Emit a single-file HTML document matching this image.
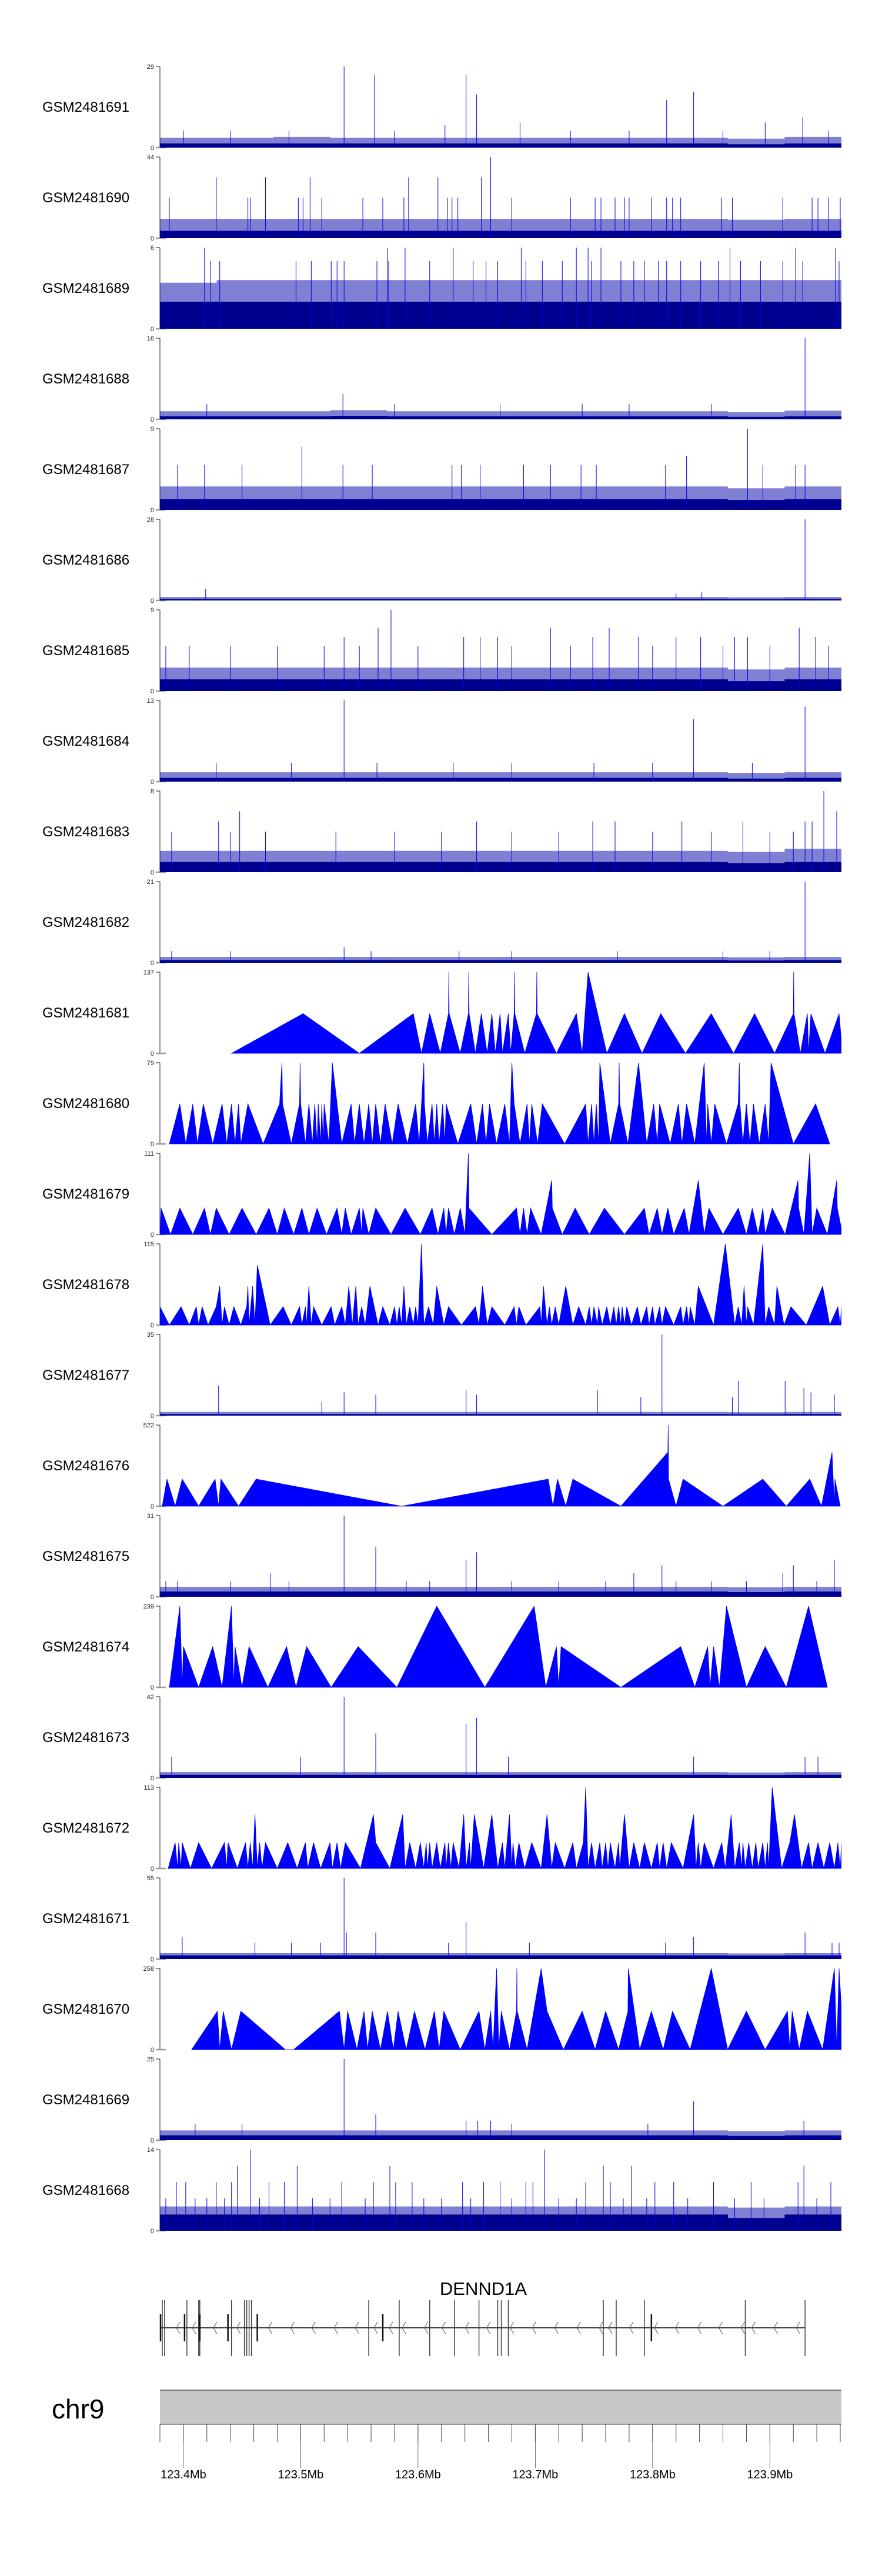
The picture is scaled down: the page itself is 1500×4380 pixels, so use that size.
<!DOCTYPE html>
<html>
<head>
<meta charset="utf-8">
<style>
html,body{margin:0;padding:0;background:#fff;}
svg{display:block;font-family:"Liberation Sans",sans-serif;}
</style>
</head>
<body>
<svg id="chart" width="1500" height="4380" viewBox="0 0 1500 4380" xmlns="http://www.w3.org/2000/svg">
<defs><clipPath id="plotclip"><rect x="272" y="0" width="1159" height="4380"/></clipPath></defs>
</svg>
<script>
// ---- region / panel meta (kb offsets from 123.38 Mb) ----
const sampleNames = ["GSM2481691","GSM2481690","GSM2481689","GSM2481688","GSM2481687","GSM2481686","GSM2481685","GSM2481684","GSM2481683","GSM2481682","GSM2481681","GSM2481680","GSM2481679","GSM2481678","GSM2481677","GSM2481676","GSM2481675","GSM2481674","GSM2481673","GSM2481672","GSM2481671","GSM2481670","GSM2481669","GSM2481668"];
const sampleMax = [29,44,6,16,9,28,9,13,8,21,137,79,111,115,35,522,31,239,42,113,55,258,25,14];
const sampleKind = ["n","n","n","n","n","n","n","n","n","n","t","t","t","t","n","t","n","t","n","t","n","t","n","n"];

// ---- triangle (sparse) tracks: polyline vertices ----
const t81Pos = [61,122,170,216,223,230,239,246,246.3,246.6,256,263,263.3,263.6,269,274,279,283,286,290,292,297,299,302,302.3,302.6,311,321,321.3,321.6,338,355,360,365,381,396,411,427,448,470,489,507,524,540,540.3,540.6,546,552,553,555,567,579,581];
const t81Val = [0,67,0,67,0,67,0,67,137,67,0,67,137,67,0,67,0,67,0,67,0,67,0,67,137,67,0,67,137,67,0,67,0,137,0,67,0,67,0,67,0,67,0,67,137,67,0,67,0,67,0,67,20];
const t80Pos = [8,17,22,28,32,37,45,53,57,61,64,67,69,75,88,102,104,104.5,112,119,119.5,120,124,127,130,132,134,135,137,138,139,140,144,147,155,163,166,170,174,178,181,184,188,192,198,203,211,218,221,223,225,225.5,228,232,234,236,238,241,243,244,254,265,270,275,278,281,287,294,298,300,302,307,313,315,317,322,326,345,363,365,368,370,372,374,375,384,391,391.5,392,399,408,415,421,424,426,435,442,445,449,456,464,466,467,470,473,483,493,494,494.5,497,500,503,506,511,516,519,521,540,559,571];
const t80Val = [0,39,0,39,0,39,0,39,0,39,0,39,0,39,0,39,79,39,0,39,79,39,0,39,0,39,0,39,0,39,0,39,0,79,0,39,0,39,0,39,0,39,0,39,0,39,0,39,0,39,79,39,0,39,0,39,0,39,0,39,0,39,0,39,0,39,0,39,0,79,39,0,39,0,39,0,39,0,39,0,39,0,39,0,79,0,39,79,39,0,79,0,39,0,39,0,39,0,39,0,79,0,39,0,39,0,39,79,39,0,39,0,39,0,39,0,79,0,39,0];
const t79Pos = [0,1,9,17,28,38,43,48,59,70,82,93,100,106,114,121,127,134,142,151,155,158,163,170,172,173,178,184,197,209,222,232,237,242,244,246,251,256,260,263,263.5,283,304,307,310,313,316,325,334,334.5,343,354,366,379,396,413,417,424,428,433,438,447,451,459,464,468,480,493,500,505,510,514,516,522,533,544,544.5,549,554,556,560,569,577,577.5,582];
const t79Val = [0,36,0,36,0,36,0,36,0,36,0,36,0,36,0,36,0,36,0,36,0,36,0,36,0,36,0,36,0,36,0,36,0,36,0,36,0,36,0,111,36,0,36,0,36,0,36,0,74,36,0,36,0,36,0,36,0,36,0,36,0,36,0,74,0,36,0,36,0,36,0,36,0,36,0,74,36,0,111,0,36,0,74,36,0];
const t78Pos = [0,8,18,25,31,33,36,41,48,51,53,55,59,63,69,74,75,76,79,81,83,94,105,112,119,121,124,125,127,129,131,138,146,149,155,158,161,164,167,169,172,175,179,186,190,196,200,202,204,206,208,210,213,216,218,220,223,225,229,233,236,242,246,257,269,272,275,279,283,294,302,304,306,312,324,325,327,330,332,334,337,340,346,352,357,363,366,368,370,373,374,377,381,384,387,389,391,393,394,396,398,402,407,410,415,417,420,422,426,428,431,438,444,446,449,451,452,456,459,472,482,490,493,496,498,500,501,506,514,516,519,524,526,532,538,551,565,571,578,580,581];
const t78Val = [26,0,26,0,26,0,26,0,26,55,0,26,0,26,0,26,55,0,55,0,85,0,26,0,26,0,26,0,55,0,26,0,26,0,26,0,55,0,55,0,26,0,55,0,26,0,26,0,26,0,55,0,26,0,26,0,115,0,26,0,55,0,26,0,26,0,55,0,26,0,26,0,26,0,26,0,55,0,26,0,26,0,55,0,26,0,26,0,26,0,26,0,26,0,26,0,26,0,26,0,26,0,26,0,26,0,26,0,26,0,26,0,26,0,26,0,26,0,55,0,115,0,26,0,55,0,26,0,115,0,26,0,55,0,26,0,55,0,26,0,26];
const t76Pos = [2,6,13,19,33,47,50,52,67,82,206,331,335,339,346,352,393,433,433.3,433.6,440,446,480,514,534,554,564,573,575,575.5,580];
const t76Val = [0,174,0,174,0,174,0,174,0,174,0,174,0,174,0,174,0,347,522,174,0,174,0,174,0,174,0,347,0,174,0];
const t74Pos = [8,17,19,20,33,45,53,61,63,64,70,76,92,108,116,125,146,169,202,236,277,319,329,338,340,342,393,444,456,467,469,472,477,483,500,516,534,553,569];
const t74Val = [0,239,0,120,0,120,0,239,0,120,0,120,0,120,0,120,0,120,0,239,0,239,0,120,0,120,0,120,0,120,0,120,0,239,0,120,0,239,0];
const t72Pos = [7,13,15,16,18,19,26,33,44,55,57,58,66,73,75,77,79,81,83,85,87,90,100,109,117,124,126,131,137,145,147,151,154,158,171,182,184,196,207,209,213,218,222,225,227,228,230,232,236,239,243,244,246,248,250,255,259,261,264,265,268,276,283,288,292,294,298,300,301,303,306,311,317,325,330,334,337,345,352,355,361,363,365,368,371,375,377,380,382,384,388,391,392,396,400,404,409,413,419,424,426,429,432,436,446,455,457,459,461,464,472,479,482,487,490,494,496,497,499,502,505,508,510,514,516,518,519,522,530,537,541,547,553,556,561,566,571,575,578,580,581];
const t72Val = [0,36,0,36,0,36,0,36,0,36,0,36,0,36,0,36,0,75,0,36,0,36,0,36,0,36,0,36,0,36,0,36,0,36,0,75,36,0,75,0,36,0,36,0,36,0,36,0,36,0,36,0,36,0,36,0,75,0,36,0,75,0,75,0,36,0,75,0,36,0,36,0,36,0,75,0,36,0,36,0,36,113,0,36,0,36,0,36,0,36,0,36,0,75,0,36,0,36,0,36,0,36,0,36,0,75,0,36,0,36,0,36,0,75,0,36,0,36,0,36,0,36,0,36,0,36,0,113,0,36,75,0,36,0,36,0,36,0,36,0,36];
const t70Pos = [27,49,51,54,61,69,107,114,153,157,160,168,174,177,181,188,194,199,203,210,217,226,234,238,242,256,272,277,282,284,287,289,291,298,304,304.3,304.6,313,325,330,344,360,371,380,391,399,399.3,409,419,429,437,452,470,484,500,516,535,537,539,545,552,565,575,577,579,583];
const t70Val = [0,122,0,122,0,122,0,0,122,0,122,0,122,0,122,0,122,0,122,0,122,0,122,0,122,0,122,0,122,0,258,0,122,0,122,258,122,0,258,122,0,122,0,122,0,122,258,0,122,0,122,0,258,0,122,0,122,0,122,0,122,0,258,0,258,0];

// ---- dense (noisy) tracks: binned floor/typical level (12 bins) + spikes ----
const n91Band=[1.5,1.5,1.5,1.5,1.5,1.5,1.5,1.5,1.5,1.5,1.2,1.5];
const n91Mid=[3.5,3.5,3.8,3.5,3.5,3.5,3.5,3.5,3.5,3.5,3.2,3.8];
const n91SpikePos=[157,183,261,270,307,432,455,548,516,243,20,60,110,200,350,400,480,570];
const n91SpikeVal=[29,26,26,19,9,17,20,11,9,8,6,6,6,6,6,6,6,6];
const n90Band=[4,4,4,4,4,4,4,4,4,4,4,4];
const n90Mid=[10.5,10.5,10.5,10.5,10.5,10.5,10.5,10.5,10.5,10.5,10,10.5];
const n90SpikePos=[8,75,77,118,122,138,173,190,208,245,249,254,300,350,371,376,388,396,400,419,432,437,444,479,488,531,556,561,570,580,48,90,128,212,237,274,282];
const n90SpikeVal=[22,22,22,22,22,22,22,22,22,22,22,22,22,22,22,22,22,22,22,22,22,22,22,22,22,22,22,22,22,22,33,33,33,33,33,33,44];
const n89Band=[2,2,2,2,2,2,2,2,2,2,2,2];
const n89Mid=[3.4,3.6,3.6,3.6,3.6,3.6,3.6,3.6,3.6,3.6,3.6,3.6];
const n89SpikePos=[38,194,209,250,308,355,365,376,486,542,576,43,51,116,129,146,151,157,185,195,230,267,278,288,312,326,343,368,393,404,413,425,432,444,461,476,495,512,531,548,579];
const n89SpikeVal=[6,6,6,6,6,6,6,6,6,6,6,5,5,5,5,5,5,5,5,5,5,5,5,5,5,5,5,5,5,5,5,5,5,5,5,5,5,5,5,5,5];
const n88Band=[0.6,0.6,0.6,0.7,0.6,0.6,0.6,0.6,0.6,0.6,0.5,0.6];
const n88Mid=[1.6,1.6,1.6,1.8,1.6,1.6,1.6,1.6,1.6,1.6,1.4,1.7];
const n88SpikePos=[550,156,40,200,290,360,400,470];
const n88SpikeVal=[16,5,3,3,3,3,3,3];
const n87Band=[1.2,1.2,1.2,1.2,1.2,1.2,1.2,1.2,1.2,1.2,1.1,1.2];
const n87Mid=[2.6,2.6,2.6,2.6,2.6,2.6,2.6,2.6,2.6,2.6,2.4,2.6];
const n87SpikePos=[501,121,449,15,38,70,156,181,249,257,273,310,333,359,372,431,514,542,550];
const n87SpikeVal=[9,7,6,5,5,5,5,5,5,5,5,5,5,5,5,5,5,5,5];
const n86Band=[0.5,0.5,0.5,0.5,0.5,0.5,0.5,0.5,0.5,0.5,0.4,0.5];
const n86Mid=[1.2,1.2,1.2,1.2,1.2,1.2,1.2,1.2,1.2,1.2,1.1,1.2];
const n86SpikePos=[550,39,462,440];
const n86SpikeVal=[28,4,3,2.5];
const n85Band=[1.3,1.3,1.3,1.3,1.3,1.3,1.3,1.3,1.3,1.3,1.1,1.3];
const n85Mid=[2.6,2.6,2.6,2.6,2.6,2.6,2.6,2.6,2.6,2.6,2.4,2.6];
const n85SpikePos=[197,186,333,383,545,157,259,273,288,369,408,440,461,490,501,559,5,25,60,100,140,170,220,300,350,420,480,520,570];
const n85SpikeVal=[9,7,7,7,7,6,6,6,6,6,6,6,6,6,6,6,5,5,5,5,5,5,5,5,5,5,5,5,5];
const n84Band=[0.6,0.6,0.6,0.6,0.6,0.6,0.6,0.6,0.6,0.6,0.5,0.6];
const n84Mid=[1.5,1.5,1.5,1.5,1.5,1.5,1.5,1.5,1.5,1.5,1.4,1.5];
const n84SpikePos=[157,455,550,48,112,185,250,300,370,420,505];
const n84SpikeVal=[13,10,12,3,3,3,3,3,3,3,3];
const n83Band=[1,1,1,1,1,1,1,1,1,1,0.9,1];
const n83Mid=[2.1,2.1,2.1,2.1,2.1,2.1,2.1,2.1,2.1,2.1,2,2.3];
const n83SpikePos=[566,68,577,50,270,369,388,445,497,550,556,10,60,90,150,200,240,300,340,420,470,520,540];
const n83SpikeVal=[8,6,6,5,5,5,5,5,5,5,5,4,4,4,4,4,4,4,4,4,4,4,4];
const n82Band=[0.7,0.7,0.7,0.7,0.7,0.7,0.7,0.7,0.7,0.7,0.6,0.7];
const n82Mid=[1.5,1.5,1.5,1.5,1.5,1.5,1.5,1.5,1.5,1.5,1.4,1.5];
const n82SpikePos=[550,157,10,60,180,255,300,390,480,520];
const n82SpikeVal=[21,4,3,3,3,3,3,3,3,3];
const n77Band=[0.7,0.7,0.7,0.7,0.7,0.7,0.7,0.7,0.7,0.7,0.6,0.7];
const n77Mid=[1.6,1.6,1.6,1.6,1.6,1.6,1.6,1.6,1.6,1.6,1.5,1.6];
const n77SpikePos=[428,50,157,184,261,270,373,410,493,533,549,555,575,138,488];
const n77SpikeVal=[35,13,10,9,11,9,11,8,15,15,12,10,9,6,8];
const n75Band=[2,2,2,2,2,2,2,2,2,2,1.8,2];
const n75Mid=[3.8,3.8,3.8,3.8,3.8,3.8,3.8,3.8,3.8,3.8,3.6,3.8];
const n75SpikePos=[157,184,261,270,94,428,540,575,404,531,5,15,60,110,210,230,300,340,380,440,470,500,560];
const n75SpikeVal=[31,19,14,17,9,12,12,14,9,9,6,6,6,6,6,6,6,6,6,6,6,6,6];
const n73Band=[1.6,1.6,1.6,1.6,1.6,1.6,1.6,1.6,1.6,1.6,1.5,1.6];
const n73Mid=[3,3,3,3,3,3,3,3,3,3,2.8,3];
const n73SpikePos=[157,261,270,184,120,297,455,10,550,561];
const n73SpikeVal=[42,28,31,23,11,11,11,11,11,11];
const n71Band=[2.5,2.5,2.5,2.5,2.5,2.5,2.5,2.5,2.5,2.5,2.3,2.5];
const n71Mid=[4,4,4,4,4,4,4,4,4,4,3.8,4];
const n71SpikePos=[157,261,184,159,550,19,455,81,112,137,246,315,431,573,579];
const n71SpikeVal=[55,25,18,18,18,15,15,11,11,11,11,11,11,11,11];
const n69Band=[1.5,1.5,1.5,1.5,1.5,1.5,1.5,1.5,1.5,1.5,1.3,1.5];
const n69Mid=[3,3,3,3,3,3,3,3,3,3,2.8,3];
const n69SpikePos=[157,455,184,261,271,282,549,70,30,300,416];
const n69SpikeVal=[25,12,8,6,6,6,6,5,5,5,5];
const n68Band=[2.8,2.8,2.8,2.8,2.8,2.8,2.8,2.8,2.8,2.8,2.2,2.8];
const n68Mid=[4.2,4.2,4.2,4.2,4.2,4.2,4.2,4.2,4.2,4.2,4,4.2];
const n68SpikePos=[77,328,66,117,196,378,402,549,14,22,48,61,93,106,155,182,201,215,258,276,290,312,318,363,384,422,438,472,504,544,572,5,30,40,55,85,130,145,175,225,240,265,300,340,355,395,415,450,490,515,560];
const n68SpikeVal=[14,14,11.2,11.2,11.2,11.2,11.2,11.2,8.4,8.4,8.4,8.4,8.4,8.4,8.4,8.4,8.4,8.4,8.4,8.4,8.4,8.4,8.4,8.4,8.4,8.4,8.4,8.4,8.4,8.4,8.4,5.6,5.6,5.6,5.6,5.6,5.6,5.6,5.6,5.6,5.6,5.6,5.6,5.6,5.6,5.6,5.6,5.6,5.6,5.6,5.6];

// ---- gene model & genome axis ----
const exonTallKb=[2,4,23,33,34,61,72,74,76,78,178,204,230,251,272,288,291,297,378,389,413,499,550];
const exonShortKb=[0.5,21,34,58,83,190,419];
const strandArrowKb=[14.5,28,46,66,93,112,130,149,167,183,196,207,226,241,261,279,299,318,337,356,375,383,401,422,440,459,477,496,505,524,543];
const axisTickLabels=["123.4Mb","123.5Mb","123.6Mb","123.7Mb","123.8Mb","123.9Mb"];
const axisTickKb=[20,120,220,320,420,520];

const SVGNS="http://www.w3.org/2000/svg";
const svg=document.getElementById('chart');
const X0=272,X1=1431,KB0=0,KB1=581;
const PTOP=113,PSTEP=154,PH=138;
function xs(k){return X0+(k-KB0)/(KB1-KB0)*(X1-X0);}
function mk(tag,attrs,parent){const e=document.createElementNS(SVGNS,tag);for(const a in attrs)e.setAttribute(a,attrs[a]);(parent||svg).appendChild(e);return e;}

const dataMap={
 "GSM2481681":[t81Pos,t81Val],"GSM2481680":[t80Pos,t80Val],"GSM2481679":[t79Pos,t79Val],"GSM2481678":[t78Pos,t78Val],
 "GSM2481676":[t76Pos,t76Val],"GSM2481674":[t74Pos,t74Val],"GSM2481672":[t72Pos,t72Val],"GSM2481670":[t70Pos,t70Val],
 "GSM2481691":[n91Band,n91Mid,n91SpikePos,n91SpikeVal],"GSM2481690":[n90Band,n90Mid,n90SpikePos,n90SpikeVal],
 "GSM2481689":[n89Band,n89Mid,n89SpikePos,n89SpikeVal],"GSM2481688":[n88Band,n88Mid,n88SpikePos,n88SpikeVal],
 "GSM2481687":[n87Band,n87Mid,n87SpikePos,n87SpikeVal],"GSM2481686":[n86Band,n86Mid,n86SpikePos,n86SpikeVal],
 "GSM2481685":[n85Band,n85Mid,n85SpikePos,n85SpikeVal],"GSM2481684":[n84Band,n84Mid,n84SpikePos,n84SpikeVal],
 "GSM2481683":[n83Band,n83Mid,n83SpikePos,n83SpikeVal],"GSM2481682":[n82Band,n82Mid,n82SpikePos,n82SpikeVal],
 "GSM2481677":[n77Band,n77Mid,n77SpikePos,n77SpikeVal],"GSM2481675":[n75Band,n75Mid,n75SpikePos,n75SpikeVal],
 "GSM2481673":[n73Band,n73Mid,n73SpikePos,n73SpikeVal],"GSM2481671":[n71Band,n71Mid,n71SpikePos,n71SpikeVal],
 "GSM2481669":[n69Band,n69Mid,n69SpikePos,n69SpikeVal],"GSM2481668":[n68Band,n68Mid,n68SpikePos,n68SpikeVal]
};

sampleNames.forEach((name,i)=>{
  const top=PTOP+i*PSTEP, bot=top+PH, mx=sampleMax[i];
  const ys=v=>bot-v/mx*PH;
  const g=mk('g',{});
  
  
  const lab=mk('text',{x:72,y:top+PH/2+8,'font-size':24,fill:'#000'},g);
  lab.textContent=name;
  
  
  const ax=mk('line',{x1:X0,y1:top,x2:X0,y2:bot,stroke:'#444','stroke-width':1.2},g);
  
  
  mk('line',{x1:265,y1:top,x2:X0,y2:top,stroke:'#444','stroke-width':1.2},g);
  mk('line',{x1:265,y1:bot,x2:X0+10,y2:bot,stroke:'#999','stroke-width':2.5},g);
  const tmax=mk('text',{x:262,y:top+4,'font-size':11,'text-anchor':'end',fill:'#222'},g);
  tmax.textContent=String(mx);
  
  
  const t0=mk('text',{x:262,y:bot+4,'font-size':11,'text-anchor':'end',fill:'#222'},g);
  t0.textContent='0';
  
  
  const pg=mk('g',{'clip-path':'url(#plotclip)'},g);
  const d=dataMap[name];
  if(sampleKind[i]==='t'){
    const pos=d[0],val=d[1];
    let pts=[[xs(pos[0]),bot]];
    for(let j=0;j<pos.length;j++)pts.push([xs(pos[j]),ys(val[j])]);
    pts.push([xs(pos[pos.length-1]),bot]);
    const poly=mk('polygon',{points:pts.map(p=>p[0].toFixed(1)+','+p[1].toFixed(1)).join(' '),fill:'#0000ff',stroke:'#0000ff','stroke-width':0.8},pg);
    
    
  } else {
    const band=d[0],mid=d[1],sp=d[2],sv=d[3];
    const bw=(KB1-KB0)/band.length;
    const area=(arr,fill,nm)=>{
      let pts=[[X0,bot]];
      arr.forEach((v,b)=>{pts.push([xs(KB0+b*bw),ys(v)]);pts.push([xs(KB0+(b+1)*bw),ys(v)]);});
      pts.push([X1,bot]);
      const p=mk('polygon',{points:pts.map(q=>q[0].toFixed(1)+','+q[1].toFixed(1)).join(' '),fill:fill},pg);
      
      
    };
    area(mid,'rgba(0,0,170,0.5)','coverage-typical');
    area(band,'#00008f','coverage-floor');
    sp.forEach((k,j)=>{
      const l=mk('line',{x1:xs(k),y1:bot,x2:xs(k),y2:ys(sv[j]),stroke:'#0000e0','stroke-width':1},pg);
      
      
    });
  }
});

// ---- gene track ----
const gg=mk('g',{});


const gname=mk('text',{x:822,y:3902,'font-size':31,'text-anchor':'middle',fill:'#000'},gg);
gname.textContent='DENND1A';


const GY=3958;
const gl=mk('line',{x1:xs(1),y1:GY,x2:xs(550),y2:GY,stroke:'#444','stroke-width':2},gg);


strandArrowKb.forEach(k=>{
  const c=mk('polyline',{points:`${xs(k)+5},${GY-10} ${xs(k)-1},${GY} ${xs(k)+5},${GY+10}`,fill:'none',stroke:'#555','stroke-width':1},gg);
  
  
});
exonTallKb.forEach(k=>{
  const e=mk('line',{x1:xs(k),y1:3911,x2:xs(k),y2:4006,stroke:'#333','stroke-width':1.4},gg);
  
  
});
exonShortKb.forEach(k=>{
  const e=mk('line',{x1:xs(k),y1:3935,x2:xs(k),y2:3981,stroke:'#111','stroke-width':2.5},gg);
  
  
});

// ---- chromosome axis ----
const cg=mk('g',{});


const chr=mk('text',{x:88,y:4112,'font-size':46,fill:'#000'},cg);
chr.textContent='chr9';


const box=mk('rect',{x:X0,y:4064,width:X1-X0,height:58,fill:'#c8c8c8'},cg);


mk('line',{x1:X0,y1:4064,x2:X1,y2:4064,stroke:'#777','stroke-width':2},cg);
mk('line',{x1:X0,y1:4122,x2:X1,y2:4122,stroke:'#777','stroke-width':1.5},cg);
for(let k=KB0;k<=KB1;k+=20){
  const t=mk('line',{x1:xs(k),y1:4122,x2:xs(k),y2:4152,stroke:'#444','stroke-width':1},cg);
  
  
}
axisTickKb.forEach((k,j)=>{
  const t=mk('line',{x1:xs(k),y1:4122,x2:xs(k),y2:4196,stroke:'#444','stroke-width':0.8},cg);
  
  
  const tl=mk('text',{x:xs(k),y:4214,'font-size':20,'text-anchor':'middle',fill:'#000'},cg);
  tl.textContent=axisTickLabels[j];
  
  
});
</script>
</body>
</html>
